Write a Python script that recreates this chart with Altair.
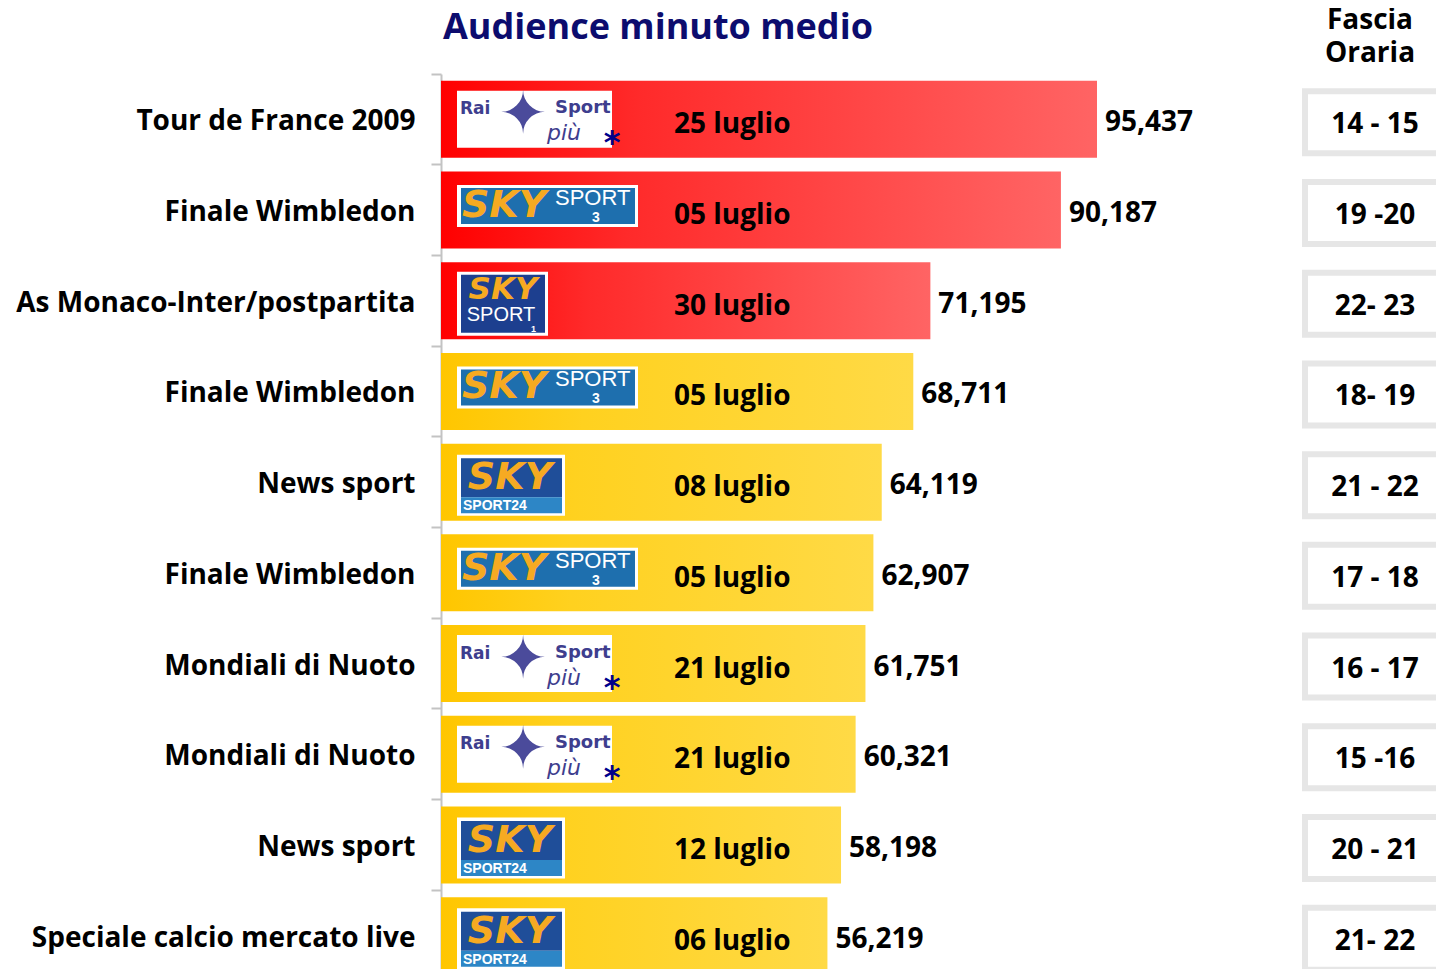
import json
import altair as alt
import pandas as pd

# ---------------- data ----------------
programmes = ["Tour de France 2009", "Finale Wimbledon", "As Monaco-Inter/postpartita",
              "Finale Wimbledon", "News sport", "Finale Wimbledon", "Mondiali di Nuoto",
              "Mondiali di Nuoto", "News sport", "Speciale calcio mercato live"]
audience = [95437, 90187, 71195, 68711, 64119, 62907, 61751, 60321, 58198, 56219]
dates = ["25 luglio", "05 luglio", "30 luglio", "05 luglio", "08 luglio",
         "05 luglio", "21 luglio", "21 luglio", "12 luglio", "06 luglio"]
fascia = ["14 - 15", "19 -20", "22- 23", "18- 19", "21 - 22",
          "17 - 18", "16 - 17", "15 -16", "20 - 21", "21- 22"]
channels = ["rai", "sky3", "sky1", "sky3", "sky24", "sky3", "rai", "rai", "sky24", "sky24"]
groups = ["top", "top", "top", "rest", "rest", "rest", "rest", "rest", "rest", "rest"]
title_text = ["Audience minuto medio"]
fascia_header = ["Fascia", "Oraria"]

df = pd.DataFrame({
    "rank": list(range(len(programmes))),
    "programme": programmes,
    "audience": audience,
    "date": dates,
    "fascia": fascia,
    "channel": channels,
    "group": groups,
})

FONT = "Open Sans"
FS = 28
label_expr = json.dumps(programmes) + "[datum.value]"

Y = alt.Y("rank:O", title=None,
          scale=alt.Scale(domain=list(range(len(programmes))), range=[0, 907],
                          paddingInner=0, paddingOuter=0),
          axis=alt.Axis(labelExpr=label_expr, labelFont=FONT, labelFontSize=FS,
                        labelFontWeight="bold", labelColor="black", labelPadding=16,
                        labelLimit=600, bandPosition=0, labelOffset=3,
                        tickSize=10, tickColor="#c3c3c3",
                        tickWidth=2, domainColor="#c3c3c3", domainWidth=2, grid=False))
X = alt.X("audience:Q", axis=None, scale=alt.Scale(domain=[0, 144755]))

base = alt.Chart(df)

red_grad = alt.LinearGradient(gradient="linear", x1=0, x2=1, y1=0, y2=0,
                              stops=[alt.GradientStop(color="#ff0000", offset=0),
                                     alt.GradientStop(color="#ff2a2a", offset=0.3),
                                     alt.GradientStop(color="#ff6464", offset=1)])
yel_grad = alt.LinearGradient(gradient="linear", x1=0, x2=1, y1=0, y2=0,
                              stops=[alt.GradientStop(color="#ffc600", offset=0),
                                     alt.GradientStop(color="#ffd11f", offset=0.3),
                                     alt.GradientStop(color="#ffda46", offset=1)])

bars_top = base.transform_filter(alt.datum.group == "top").mark_bar(
    height=77, color=red_grad).encode(y=Y, x=X)
bars_rest = base.transform_filter(alt.datum.group == "rest").mark_bar(
    height=77, color=yel_grad).encode(y=Y, x=X)

values = base.mark_text(align="left", baseline="middle", dx=8, dy=4, font=FONT,
                        fontSize=FS, fontWeight="bold", color="black").encode(
    y=Y, x=X, text=alt.Text("audience:Q", format=",d"))

date_lbl = base.mark_text(align="left", baseline="middle", dy=6, font=FONT,
                          fontSize=FS, fontWeight="bold", color="black").encode(
    y=Y, x=alt.value(233), text="date:N")


# ---------------- logos (approximations) ----------------
def lrect(ch, x0, x1, h, dy, fill, **kw):
    return base.transform_filter(alt.datum.channel == ch).mark_bar(
        height=h, yOffset=dy, color=fill, **kw).encode(y=Y, x=alt.value(x0), x2=alt.value(x1))


def ltext(ch, txt, x, dy, size, color, weight="bold", style="normal",
          align="left", font="DejaVu Sans"):
    return base.transform_filter(alt.datum.channel == ch).mark_text(
        text=txt, align=align, baseline="middle", dy=dy, fontSize=size, color=color,
        fontWeight=weight, fontStyle=style, font=font).encode(y=Y, x=alt.value(x))


ORANGE = "#f6aa22"
RAI = "#3e3e8e"
logos = [
    # Rai Sport piu
    lrect("rai", 16, 171, 57, 0, "white"),
    ltext("rai", "Rai", 19, -10, 17, RAI),
    ltext("rai", "\u2726", 82, -3, 58, "#4b4b9b", weight="normal", align="center"),
    ltext("rai", "Sport", 114, -11, 18, RAI),
    ltext("rai", "più", 106, 14, 22, RAI, weight="normal", style="italic"),
    ltext("rai", "*", 171, 24, 32, "#00008b", align="center"),
    # Sky Sport 3
    lrect("sky3", 16, 197, 42, -4, "white"),
    lrect("sky3", 20, 194, 36, -4, "#1e6fae"),
    ltext("sky3", "SKY", 21, -4, 38, ORANGE, style="italic"),
    ltext("sky3", "SPORT", 114, -12, 22, "white", weight="normal", font="Liberation Sans"),
    ltext("sky3", "3", 151, 8, 14, "white", font="Liberation Sans"),
    # Sky Sport 1
    lrect("sky1", 16, 107, 64, 3, "white"),
    lrect("sky1", 20, 104, 58, 3, "#1d3f8f"),
    ltext("sky1", "SKY", 62, -11, 31, ORANGE, style="italic", align="center"),
    ltext("sky1", "SPORT", 60, 14, 20, "white", weight="normal", align="center",
          font="Liberation Sans"),
    ltext("sky1", "1", 90, 28, 9, "white", font="Liberation Sans"),
    # Sky Sport 24
    lrect("sky24", 16, 124, 61, 3, "white"),
    lrect("sky24", 20, 121, 39, -4.5, "#1f4e99"),
    lrect("sky24", 20, 121, 16, 23, "#2d86c6"),
    ltext("sky24", "SKY", 69, -4, 38, ORANGE, style="italic", align="center"),
    ltext("sky24", "SPORT24", 22, 24, 14, "white", font="Liberation Sans"),
]

# ---------------- fascia oraria column ----------------
fascia_box = base.mark_bar(height=62, yOffset=3, fill="white", stroke="#e6e6e6",
                           strokeWidth=6).encode(y=Y, x=alt.value(864), x2=alt.value(1010))
fascia_txt = base.mark_text(align="center", baseline="middle", dy=6, font=FONT,
                            fontSize=FS, fontWeight="bold", color="black").encode(
    y=Y, x=alt.value(934), text="fascia:N")

header_layers = [
    alt.Chart(pd.DataFrame({"t": [txt]})).mark_text(
        align="center", baseline="middle", font=FONT, fontSize=FS, fontWeight="bold",
        color="black").encode(x=alt.value(929), y=alt.value(yy), text="t:N")
    for txt, yy in zip(fascia_header, [-53, -20])
]

title = alt.Chart(pd.DataFrame({"t": title_text})).mark_text(
    align="left", baseline="alphabetic", font=FONT, fontSize=36, fontWeight="bold",
    color="#0c0c6e").encode(x=alt.value(2), y=alt.value(-35), text="t:N")

chart = alt.layer(
    bars_top, bars_rest, *logos, values, date_lbl, fascia_box, fascia_txt,
    *header_layers, title
).properties(
    width=995, height=895,
    autosize=alt.AutoSizeParams(type="none"),
    padding={"left": 433, "top": 66, "right": 0, "bottom": 0},
).configure_view(stroke=None)

chart.save("out.html", embed_options={"renderer": "svg", "actions": False})
